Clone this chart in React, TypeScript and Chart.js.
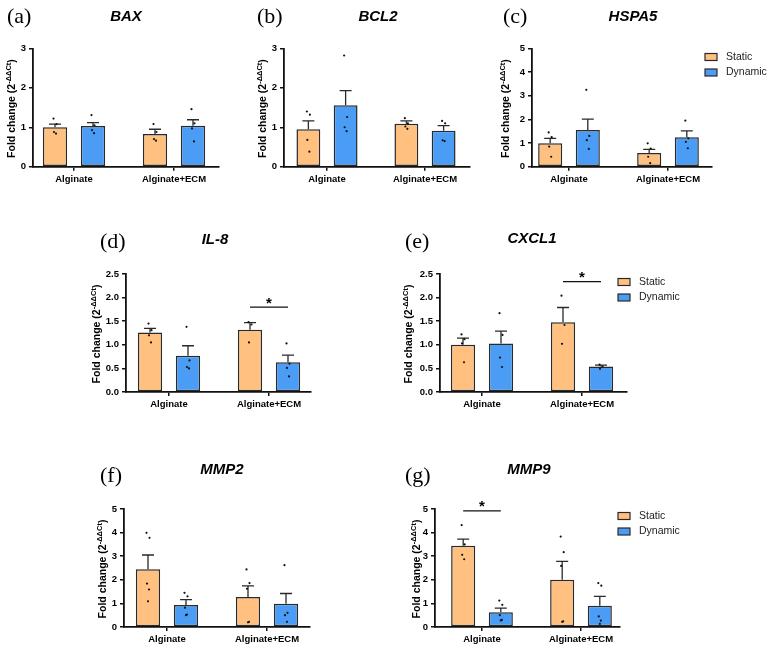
import { useEffect, useRef } from 'react';
import { Chart, registerables } from 'chart.js';

Chart.register(...registerables);

const FAMILY = "'Liberation Sans', Arial, sans-serif";
Chart.defaults.font.family = FAMILY;

// ---- data -------------------------------------------------------------
const GROUPS = ['Alginate', 'Alginate+ECM'];
const SERIES = ['Static', 'Dynamic'];

const BAX_STATIC = [1.0, 0.83];
const BAX_STATIC_SEM = [0.08, 0.12];
const BAX_STATIC_PTS = [[1.22, 1.08, 0.88, 0.84], [1.08, 0.88, 0.7, 0.66]];
const BAX_DYNAMIC = [1.03, 1.04];
const BAX_DYNAMIC_SEM = [0.09, 0.15];
const BAX_DYNAMIC_PTS = [[1.31, 1.05, 0.93, 0.85], [1.46, 1.1, 0.97, 0.64]];

const BCL2_STATIC = [0.95, 1.09];
const BCL2_STATIC_SEM = [0.21, 0.07];
const BCL2_STATIC_PTS = [[1.4, 1.32, 0.68, 0.38], [1.23, 1.1, 1.02, 0.96]];
const BCL2_DYNAMIC = [1.56, 0.91];
const BCL2_DYNAMIC_SEM = [0.37, 0.13];
const BCL2_DYNAMIC_PTS = [[2.82, 1.26, 1.0, 0.9], [1.16, 1.1, 0.67, 0.65]];

const HSPA5_STATIC = [0.99, 0.58];
const HSPA5_STATIC_SEM = [0.21, 0.15];
const HSPA5_STATIC_PTS = [[1.45, 1.25, 0.85, 0.42], [0.99, 0.77, 0.42, 0.15]];
const HSPA5_DYNAMIC = [1.55, 1.25];
const HSPA5_DYNAMIC_SEM = [0.46, 0.26];
const HSPA5_DYNAMIC_PTS = [[3.25, 1.3, 1.12, 0.75], [1.95, 1.2, 1.05, 0.78]];

const IL8_STATIC = [1.26, 1.32];
const IL8_STATIC_SEM = [0.09, 0.15];
const IL8_STATIC_PTS = [[1.45, 1.31, 1.2, 1.05], [1.48, 1.43, 1.05]];
const IL8_DYNAMIC = [0.77, 0.63];
const IL8_DYNAMIC_SEM = [0.21, 0.15];
const IL8_DYNAMIC_PTS = [[1.38, 0.67, 0.53, 0.5], [1.03, 0.6, 0.51, 0.33]];

const CXCL1_STATIC = [1.0, 1.48];
const CXCL1_STATIC_SEM = [0.14, 0.31];
const CXCL1_STATIC_PTS = [[1.22, 1.12, 1.03, 0.63], [2.04, 1.42, 1.02]];
const CXCL1_DYNAMIC = [1.03, 0.54];
const CXCL1_DYNAMIC_SEM = [0.26, 0.03];
const CXCL1_DYNAMIC_PTS = [[1.67, 1.21, 0.73, 0.53], [0.58, 0.54, 0.49]];

const MMP2_STATIC = [2.45, 1.27];
const MMP2_STATIC_SEM = [0.6, 0.47];
const MMP2_STATIC_PTS = [[3.99, 3.78, 1.84, 1.59, 1.09], [2.44, 1.86, 1.62, 0.22, 0.2]];
const MMP2_DYNAMIC = [0.93, 0.99];
const MMP2_DYNAMIC_SEM = [0.23, 0.43];
const MMP2_DYNAMIC_PTS = [[1.45, 1.3, 0.82, 0.53, 0.5], [2.62, 0.6, 0.5, 0.22]];

const MMP9_STATIC = [3.44, 2.0];
const MMP9_STATIC_SEM = [0.28, 0.78];
const MMP9_STATIC_PTS = [[4.32, 3.5, 3.06, 2.87], [3.83, 3.17, 2.59, 0.24, 0.22]];
const MMP9_DYNAMIC = [0.62, 0.9];
const MMP9_DYNAMIC_SEM = [0.18, 0.4];
const MMP9_DYNAMIC_PTS = [[1.12, 0.94, 0.5, 0.3, 0.28], [1.86, 1.75, 0.45, 0.27, 0.13]];

// ---- styling ----------------------------------------------------------
const ORANGE = '#FFC080';
const BLUE = '#4A9CF5';
const EDGE = '#2A2A2A';
const JITTER = [-1.5, 1.5, -1, 1, 0];

type Series = { mean: number[]; sem: number[]; pts: number[][] };

type Panel = {
  letter: string;
  gene: string;
  box: [number, number, number, number];
  plot: { left: number; right: number; top: number; bottom: number };
  tickPx: [number, number];
  yMax: number;
  yStep: number;
  yDecimals: number;
  letterPos: [number, number];
  titlePos: [number, number];
  yTitleX: number;
  legend?: [number, number];
  sig?: { group: number; level: number };
  stat: Series;
  dyn: Series;
};

const PANELS: Panel[] = [
  {
    letter: 'a', gene: 'BAX', box: [0, 0, 250, 195],
    plot: { left: 33, right: 219, top: 48.4, bottom: 166.7 }, tickPx: [74, 174],
    yMax: 3, yStep: 1, yDecimals: 0, letterPos: [7, 16], titlePos: [126, 17], yTitleX: 12,
    stat: { mean: BAX_STATIC, sem: BAX_STATIC_SEM, pts: BAX_STATIC_PTS },
    dyn: { mean: BAX_DYNAMIC, sem: BAX_DYNAMIC_SEM, pts: BAX_DYNAMIC_PTS },
  },
  {
    letter: 'b', gene: 'BCL2', box: [250, 0, 250, 195],
    plot: { left: 284, right: 470, top: 48.4, bottom: 166.7 }, tickPx: [327, 425],
    yMax: 3, yStep: 1, yDecimals: 0, letterPos: [257, 16], titlePos: [378, 17], yTitleX: 263,
    stat: { mean: BCL2_STATIC, sem: BCL2_STATIC_SEM, pts: BCL2_STATIC_PTS },
    dyn: { mean: BCL2_DYNAMIC, sem: BCL2_DYNAMIC_SEM, pts: BCL2_DYNAMIC_PTS },
  },
  {
    letter: 'c', gene: 'HSPA5', box: [500, 0, 268, 195],
    plot: { left: 532, right: 712, top: 48.4, bottom: 166.7 }, tickPx: [569, 668],
    yMax: 5, yStep: 1, yDecimals: 0, letterPos: [503, 16], titlePos: [633, 17], yTitleX: 506,
    legend: [705, 57],
    stat: { mean: HSPA5_STATIC, sem: HSPA5_STATIC_SEM, pts: HSPA5_STATIC_PTS },
    dyn: { mean: HSPA5_DYNAMIC, sem: HSPA5_DYNAMIC_SEM, pts: HSPA5_DYNAMIC_PTS },
  },
  {
    letter: 'd', gene: 'IL-8', box: [80, 222, 300, 200],
    plot: { left: 126, right: 311, top: 274, bottom: 392 }, tickPx: [169, 269],
    yMax: 2.5, yStep: 0.5, yDecimals: 1, letterPos: [100, 241], titlePos: [215, 240], yTitleX: 97,
    sig: { group: 1, level: 1.8 },
    stat: { mean: IL8_STATIC, sem: IL8_STATIC_SEM, pts: IL8_STATIC_PTS },
    dyn: { mean: IL8_DYNAMIC, sem: IL8_DYNAMIC_SEM, pts: IL8_DYNAMIC_PTS },
  },
  {
    letter: 'e', gene: 'CXCL1', box: [380, 222, 320, 200],
    plot: { left: 440, right: 627, top: 274, bottom: 392 }, tickPx: [482, 582],
    yMax: 2.5, yStep: 0.5, yDecimals: 1, letterPos: [405, 241], titlePos: [532, 239], yTitleX: 409.5,
    legend: [618, 282], sig: { group: 1, level: 2.34 },
    stat: { mean: CXCL1_STATIC, sem: CXCL1_STATIC_SEM, pts: CXCL1_STATIC_PTS },
    dyn: { mean: CXCL1_DYNAMIC, sem: CXCL1_DYNAMIC_SEM, pts: CXCL1_DYNAMIC_PTS },
  },
  {
    letter: 'f', gene: 'MMP2', box: [0, 455, 320, 193],
    plot: { left: 124, right: 310, top: 509, bottom: 627 }, tickPx: [167, 267],
    yMax: 5, yStep: 1, yDecimals: 0, letterPos: [100, 475], titlePos: [222, 470], yTitleX: 103.5,
    stat: { mean: MMP2_STATIC, sem: MMP2_STATIC_SEM, pts: MMP2_STATIC_PTS },
    dyn: { mean: MMP2_DYNAMIC, sem: MMP2_DYNAMIC_SEM, pts: MMP2_DYNAMIC_PTS },
  },
  {
    letter: 'g', gene: 'MMP9', box: [320, 455, 380, 193],
    plot: { left: 435, right: 620, top: 509, bottom: 627 }, tickPx: [482, 581],
    yMax: 5, yStep: 1, yDecimals: 0, letterPos: [405, 475], titlePos: [529, 470], yTitleX: 417.5,
    legend: [618, 516], sig: { group: 0, level: 4.92 },
    stat: { mean: MMP9_STATIC, sem: MMP9_STATIC_SEM, pts: MMP9_STATIC_PTS },
    dyn: { mean: MMP9_DYNAMIC, sem: MMP9_DYNAMIC_SEM, pts: MMP9_DYNAMIC_PTS },
  },
];

// Error bars, replicate dots, titles, legend and significance marks.
function makeOverlay(p: Panel) {
  const ox = p.box[0];
  const oy = p.box[1];
  return {
    id: 'panelOverlay',
    afterDatasetsDraw(chart: any) {
      const ctx: CanvasRenderingContext2D = chart.ctx;
      const ys = chart.scales.y;
      [p.stat, p.dyn].forEach((s, di) => {
        const meta = chart.getDatasetMeta(di);
        meta.data.forEach((bar: any, gi: number) => {
          const x = bar.x;
          const yTop = ys.getPixelForValue(s.mean[gi]);
          const yErr = ys.getPixelForValue(s.mean[gi] + s.sem[gi]);
          ctx.save();
          ctx.strokeStyle = EDGE;
          ctx.lineWidth = 1.3;
          ctx.beginPath();
          ctx.moveTo(x, yTop);
          ctx.lineTo(x, yErr);
          ctx.moveTo(x - 6, yErr);
          ctx.lineTo(x + 6, yErr);
          ctx.stroke();
          ctx.fillStyle = '#111';
          s.pts[gi].forEach((v, k) => {
            ctx.beginPath();
            ctx.arc(x + JITTER[k % JITTER.length], ys.getPixelForValue(v), 1.1, 0, Math.PI * 2);
            ctx.fill();
          });
          ctx.restore();
        });
      });
    },
    afterDraw(chart: any) {
      const ctx: CanvasRenderingContext2D = chart.ctx;
      const area = chart.chartArea;
      ctx.save();
      ctx.fillStyle = '#000';

      // gene title
      ctx.font = `italic bold 15px ${FAMILY}`;
      ctx.textAlign = 'center';
      ctx.textBaseline = 'middle';
      ctx.fillText(p.gene, p.titlePos[0] - ox, p.titlePos[1] - oy);

      // y-axis title with superscript exponent
      ctx.save();
      ctx.translate(p.yTitleX - ox, (area.top + area.bottom) / 2 + 1);
      ctx.rotate(-Math.PI / 2);
      const main = 'Fold change (2';
      const sup = '-ΔΔCt';
      const close = ')';
      ctx.font = `bold 10.5px ${FAMILY}`;
      const w1 = ctx.measureText(main).width;
      const w3 = ctx.measureText(close).width;
      ctx.font = `bold 7.5px ${FAMILY}`;
      const w2 = ctx.measureText(sup).width;
      let tx = -(w1 + w2 + w3) / 2;
      ctx.textAlign = 'left';
      ctx.textBaseline = 'middle';
      ctx.font = `bold 10.5px ${FAMILY}`;
      ctx.fillText(main, tx, 0);
      tx += w1;
      ctx.font = `bold 7.5px ${FAMILY}`;
      ctx.fillText(sup, tx, -3.5);
      tx += w2;
      ctx.font = `bold 10.5px ${FAMILY}`;
      ctx.fillText(close, tx, 0);
      ctx.restore();

      // legend
      if (p.legend) {
        const [lx, ly] = p.legend;
        chart.data.datasets.forEach((ds: any, i: number) => {
          const cy = ly - oy + i * 15.5;
          ctx.fillStyle = ds.backgroundColor;
          ctx.fillRect(lx - ox, cy - 3.5, 12, 7);
          ctx.strokeStyle = EDGE;
          ctx.lineWidth = 1.2;
          ctx.strokeRect(lx - ox, cy - 3.5, 12, 7);
          ctx.fillStyle = '#222';
          ctx.font = `10.5px ${FAMILY}`;
          ctx.textAlign = 'left';
          ctx.textBaseline = 'middle';
          ctx.fillText(ds.label, lx - ox + 21, cy);
        });
      }

      // significance bracket
      if (p.sig) {
        const b0 = chart.getDatasetMeta(0).data[p.sig.group];
        const b1 = chart.getDatasetMeta(1).data[p.sig.group];
        const y = chart.scales.y.getPixelForValue(p.sig.level);
        ctx.strokeStyle = '#111';
        ctx.lineWidth = 1.3;
        ctx.beginPath();
        ctx.moveTo(b0.x, y);
        ctx.lineTo(b1.x, y);
        ctx.stroke();
        ctx.fillStyle = '#000';
        ctx.font = `bold 15px ${FAMILY}`;
        ctx.textAlign = 'center';
        ctx.textBaseline = 'alphabetic';
        ctx.fillText('*', (b0.x + b1.x) / 2, y + 0.5);
      }
      ctx.restore();
    },
  };
}

function buildChart(canvas: HTMLCanvasElement, p: Panel) {
  const [bx, by, bw, bh] = p.box;
  const [t1, t2] = p.tickPx;
  const unit = t2 - t1;
  const xMin = (p.plot.left - t1) / unit;
  const xMax = 1 + (p.plot.right - t2) / unit;
  const tickFont = { family: FAMILY, size: 9.5, weight: 'bold' as const };
  const axisColor = '#111';

  return new Chart(canvas, {
    type: 'bar',
    data: {
      datasets: [
        {
          label: SERIES[0],
          data: p.stat.mean.map((y, i) => ({ x: i, y })) as any,
          backgroundColor: ORANGE,
          borderColor: EDGE,
          borderWidth: 1.5,
          borderSkipped: false,
          categoryPercentage: 0.76,
          barPercentage: 0.64,
        },
        {
          label: SERIES[1],
          data: p.dyn.mean.map((y, i) => ({ x: i, y })) as any,
          backgroundColor: BLUE,
          borderColor: EDGE,
          borderWidth: 1.5,
          borderSkipped: false,
          categoryPercentage: 0.76,
          barPercentage: 0.64,
        },
      ],
    },
    options: {
      animation: false,
      responsive: false,
      maintainAspectRatio: false,
      layout: {
        padding: { left: 0, top: p.plot.top - by, right: bx + bw - p.plot.right, bottom: 0 },
      },
      plugins: {
        legend: { display: false },
        tooltip: { enabled: false },
        title: { display: false },
      },
      scales: {
        x: {
          type: 'linear',
          min: xMin,
          max: xMax,
          offset: false,
          afterBuildTicks: (s: any) => {
            s.ticks = GROUPS.map((_, i) => ({ value: i }));
          },
          afterFit: (s: any) => {
            s.height = by + bh - p.plot.bottom;
          },
          ticks: {
            autoSkip: false,
            maxRotation: 0,
            padding: 3,
            color: '#000',
            font: tickFont,
            callback: (v: any) => GROUPS[Math.round(Number(v))] ?? '',
          },
          grid: {
            offset: false,
            drawOnChartArea: false,
            drawTicks: true,
            tickLength: 4,
            color: axisColor,
            lineWidth: 1.5,
          },
          border: { display: true, color: axisColor, width: 1.8 },
        },
        y: {
          min: 0,
          max: p.yMax,
          afterFit: (s: any) => {
            s.width = p.plot.left - bx;
          },
          ticks: {
            stepSize: p.yStep,
            padding: 3,
            color: '#000',
            font: tickFont,
            callback: (v: any) => Number(v).toFixed(p.yDecimals),
          },
          grid: {
            drawOnChartArea: false,
            drawTicks: true,
            tickLength: 4,
            color: axisColor,
            lineWidth: 1.5,
          },
          border: { display: true, color: axisColor, width: 1.8 },
        },
      },
    } as any,
    plugins: [makeOverlay(p)],
  });
}

function PanelChart({ p }: { p: Panel }) {
  const ref = useRef<HTMLCanvasElement>(null);
  useEffect(() => {
    if (!ref.current) return;
    const chart = buildChart(ref.current, p);
    return () => chart.destroy();
  }, [p]);
  const [l, t, w, h] = p.box;
  return (
    <canvas
      ref={ref}
      width={w}
      height={h}
      style={{ position: 'absolute', left: l, top: t, width: w, height: h }}
    />
  );
}

export default function App() {
  return (
    <div
      style={{
        position: 'absolute',
        left: 0,
        top: 0,
        width: 768,
        height: 648,
        background: '#fff',
        overflow: 'hidden',
      }}
    >
      {PANELS.map((p) => (
        <PanelChart key={p.letter} p={p} />
      ))}
      {PANELS.map((p) => (
        <div
          key={'lbl-' + p.letter}
          style={{
            position: 'absolute',
            left: p.letterPos[0],
            top: p.letterPos[1] - 13,
            font: "22px 'Liberation Serif', 'Times New Roman', serif",
            lineHeight: '26px',
            color: '#000',
            whiteSpace: 'nowrap',
          }}
        >
          ({p.letter})
        </div>
      ))}
    </div>
  );
}
